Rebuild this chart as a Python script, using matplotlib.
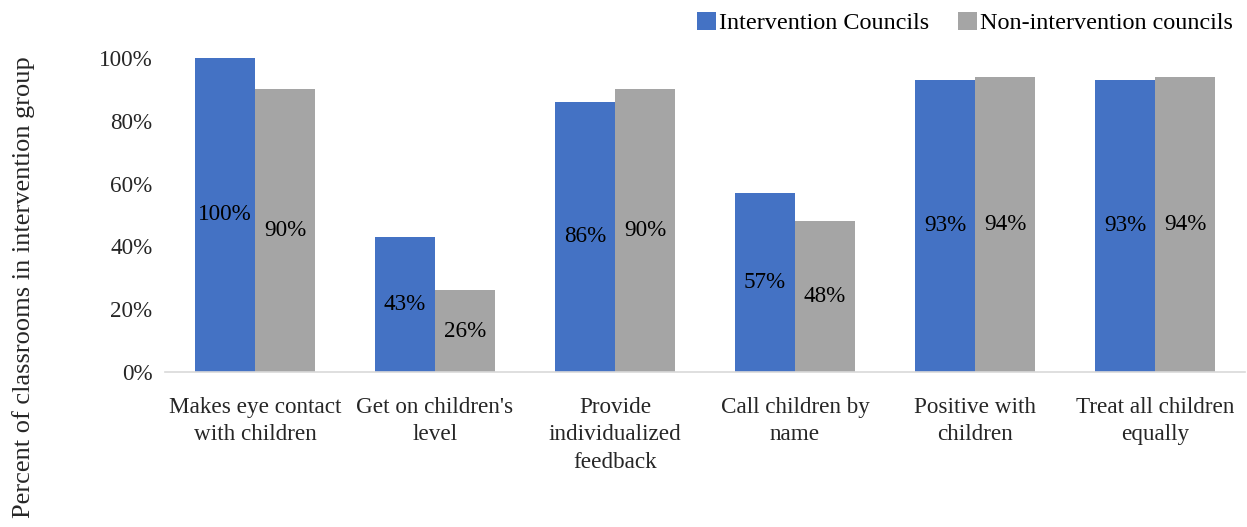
import matplotlib.pyplot as plt
import numpy as np

plt.rcParams['font.family'] = ['Liberation Serif', 'DejaVu Serif']

categories = ["Makes eye contact\nwith children", "Get on children's\nlevel",
              "Provide\nindividualized\nfeedback", "Call children by\nname",
              "Positive with\nchildren", "Treat all children\nequally"]
intervention = [100, 43, 86, 57, 93, 93]
non_intervention = [90, 26, 90, 48, 94, 94]
series_names = ["Intervention Councils", "Non-intervention councils"]
colors = ["#4472C4", "#A5A5A5"]

fig = plt.figure(figsize=(12.47, 5.27), dpi=100)
ax = fig.add_axes([165/1247, 1 - 372/527, 1080/1247, 314/527])

x = np.arange(len(categories))
w = 1/3
fs = 16.7
for vals, off, c, name in [(intervention, -w/2, colors[0], series_names[0]),
                           (non_intervention, w/2, colors[1], series_names[1])]:
    v = np.array(vals) / 100
    bars = ax.bar(x + off, v, width=w, color=c, label=name)
    for b, val in zip(bars, vals):
        ax.text(b.get_x() + b.get_width()/2, b.get_height()/2, f"{val}%",
                ha='center', va='center', fontsize=fs, color='black')

ax.set_xlim(-0.5, len(categories) - 0.5)
ax.set_ylim(0, 1)
ax.set_yticks(np.arange(0, 1.01, 0.2))
ax.set_yticklabels([f"{int(round(t*100))}%" for t in np.arange(0, 1.01, 0.2)])
ax.set_xticks(x)
ax.set_xticklabels(categories, linespacing=1.4)
ax.tick_params(axis='both', length=0, labelsize=fs, colors='#262626')
ax.tick_params(axis='y', pad=9)
ax.tick_params(axis='x', pad=18)
for s in ['top', 'right', 'left']:
    ax.spines[s].set_visible(False)
ax.spines['bottom'].set_color('#D9D9D9')
ax.spines['bottom'].set_linewidth(1.2)

fig.text(0.0185, 0.455, "Percent of classrooms in intervention group",
         rotation=90, ha='center', va='center', fontsize=19, color='#262626')

fig.legend(loc='upper right', bbox_to_anchor=(1.002, 1.01), ncol=2, frameon=False,
           fontsize=17.4, handlelength=0.78, handleheight=0.78, handletextpad=0.12,
           columnspacing=1.2, borderaxespad=0.3)

fig.savefig("out.png", dpi=100)
